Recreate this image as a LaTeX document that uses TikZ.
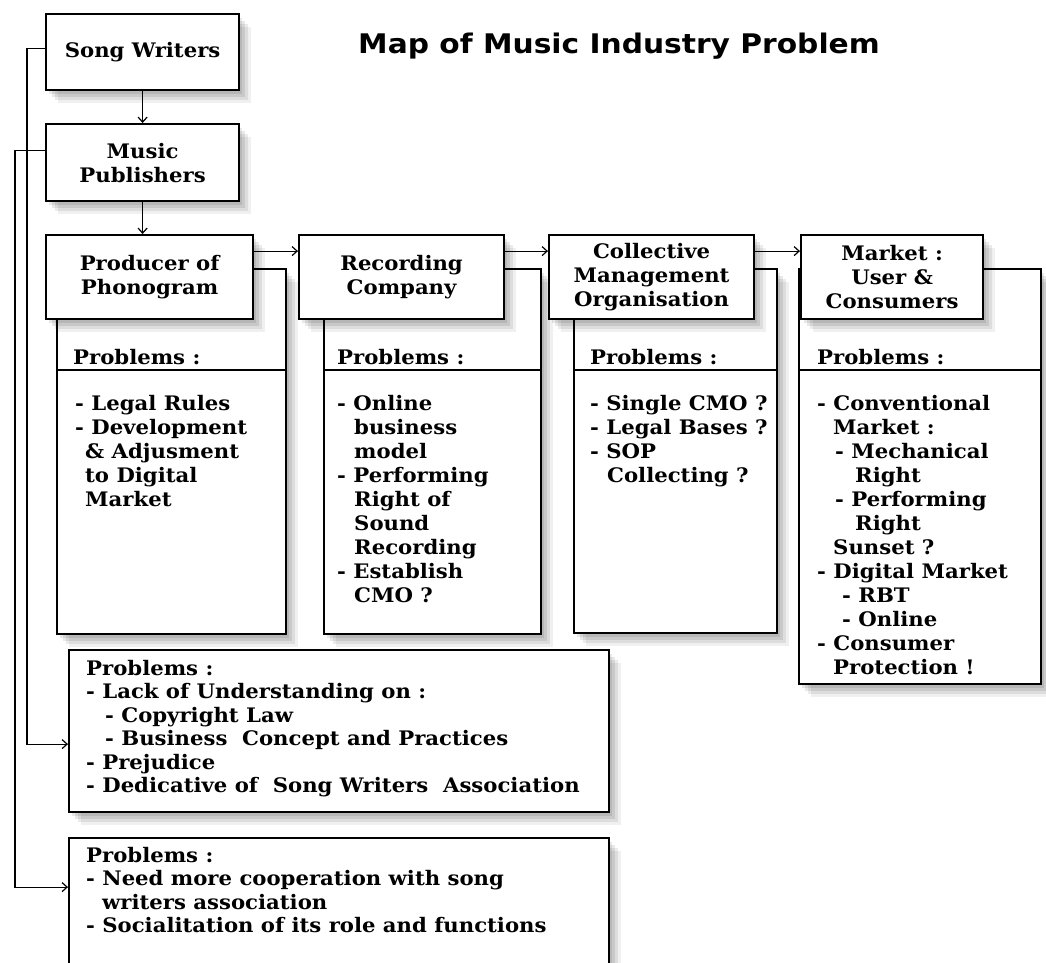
\documentclass[tikz,border=0pt]{standalone}
\usepackage{fontspec}
\setmainfont{DejaVu Serif}[FakeStretch=1.06]
\newfontfamily\titlefont{DejaVu Sans}[FakeStretch=1.1]
\usetikzlibrary{arrows.meta,shadows}

\tikzset{
    softshadow/.style={
        general shadow={fill=black, opacity=0.09, shadow xshift=3pt, shadow yshift=-4pt},
        general shadow={fill=black, opacity=0.09, shadow xshift=6pt, shadow yshift=-7pt},
        general shadow={fill=black, opacity=0.08, shadow xshift=9pt, shadow yshift=-10pt},
        general shadow={fill=black, opacity=0.06, shadow xshift=12pt, shadow yshift=-13pt}},
    box/.style={draw, line width=2.2pt, fill=white, inner sep=0pt, softshadow},
    hdr/.style={box, anchor=north west, align=center,
        font=\bfseries\fontsize{20}{24}\selectfont},
    panel/.style={box, anchor=north west},
    txt/.style={anchor=north west, inner sep=0pt, align=left,
        font=\bfseries\fontsize{20}{24}\selectfont},
    link/.style={line width=1.2pt, -{Straight Barb[length=5pt,width=9pt]}},
}

\begin{document}
\begin{tikzpicture}[x=1pt, y=-1pt]
            \useasboundingbox (0,0) rectangle (1046,962);
            % title
            \node[anchor=base, font=\titlefont\bfseries\fontsize{27}{30}\selectfont]
                (title) at (619,53) {Map of Music Industry Problem};

            % problem panels behind the chain
            \node[panel, minimum width=229pt, minimum height=365pt] (prodp) at (56,268) {};
            \node[panel, minimum width=217pt, minimum height=365pt] (recp) at (323,268) {};
            \node[panel, minimum width=203pt, minimum height=364pt] (cmop) at (573,268) {};
            \node[panel, minimum width=242pt, minimum height=415pt] (mktp) at (798,268) {};
            \foreach \p in {prodp,recp,cmop,mktp}
                \draw[line width=1.5pt] (\p.west |- 0,370) -- (\p.east |- 0,370);

            % chain
            \node[hdr, minimum width=193pt, minimum height=76pt] (sw) at (45,13) {Song Writers};
            \node[hdr, minimum width=193pt, minimum height=77pt] (mp) at (45,123) {Music\\Publishers};
            \node[hdr, minimum width=207pt, minimum height=84pt] (prod) at (45,234) {Producer of\\Phonogram};
            \node[hdr, minimum width=205pt, minimum height=84pt] (rec) at (298,234) {Recording\\Company};
            \node[hdr, minimum width=205pt, minimum height=84pt] (cmo) at (548,234)
                {Collective\\Management\\Organisation};
            \node[hdr, minimum width=182pt, minimum height=84pt] (mkt) at (800,234)
                {Market :\\User \&\\Consumers};

            % panel texts
            \node[txt] (prodh) at (73,349) {Problems :};
            \node[txt] (prodl) at (75,395) {- Legal Rules\\- Development\\
                \hspace*{10pt}\& Adjusment\\\hspace*{10pt}to Digital\\\hspace*{10pt}Market};
            \node[txt] (rech) at (337,349) {Problems :};
            \node[txt] (recl) at (337,395) {- Online\\\hspace*{17pt}business\\\hspace*{17pt}model\\
                - Performing\\\hspace*{17pt}Right of\\\hspace*{17pt}Sound\\\hspace*{17pt}Recording\\
                - Establish\\\hspace*{17pt}CMO ?};
            \node[txt] (cmoh) at (590,349) {Problems :};
            \node[txt] (cmol) at (590,395) {- Single CMO ?\\- Legal Bases ?\\- SOP\\
                \hspace*{17pt}Collecting ?};
            \node[txt] (mkth) at (817,349) {Problems :};
            \node[txt] (mktl) at (817,395) {- Conventional\\\hspace*{16pt}Market :\\
                \hspace*{18pt}- Mechanical\\\hspace*{38pt}Right\\
                \hspace*{18pt}- Performing\\\hspace*{38pt}Right\\
                \hspace*{16pt}Sunset ?\\- Digital Market\\
                \hspace*{25pt}- RBT\\\hspace*{25pt}- Online\\
                - Consumer\\\hspace*{16pt}Protection !};

            % bottom boxes
            \node[panel, minimum width=540pt, minimum height=162pt] (swp) at (68,649) {};
            \node[txt, font=\bfseries\fontsize{20}{23.5}\selectfont] (swl) at (86,660)
                {Problems :\\- Lack of Understanding on :\\
                \hspace*{19pt}- Copyright Law\\\hspace*{19pt}- Business\ \ Concept and Practices\\
                - Prejudice\\- Dedicative of\ \ Song Writers\ \ Association};
            \node[panel, minimum width=540pt, minimum height=140pt] (mpp) at (68,837) {};
            \node[txt, font=\bfseries\fontsize{20}{23.5}\selectfont] (mpl) at (86,847)
                {Problems :\\- Need more cooperation with song\\
                \hspace*{16pt}writers association\\- Socialitation of its role and functions};

            % connectors
            \draw[link] (sw) -- (mp);
            \draw[link] (mp.south) -- (mp.south |- prod.north);
            \draw[link] ([yshift=26pt]prod.east) -- ([yshift=26pt]rec.west);
            \draw[link] ([yshift=26pt]rec.east) -- ([yshift=26pt]cmo.west);
            \draw[link] ([yshift=26pt]cmo.east) -- ([yshift=26pt]mkt.west);
            \draw[link] ([yshift=4pt]sw.west) -- ++(-18,0) |- ([yshift=-13pt]swp.west);
            \draw[link] ([yshift=12pt]mp.west) -- ++(-30,0) |- ([yshift=21pt]mpp.west);
\end{tikzpicture}
\end{document}
